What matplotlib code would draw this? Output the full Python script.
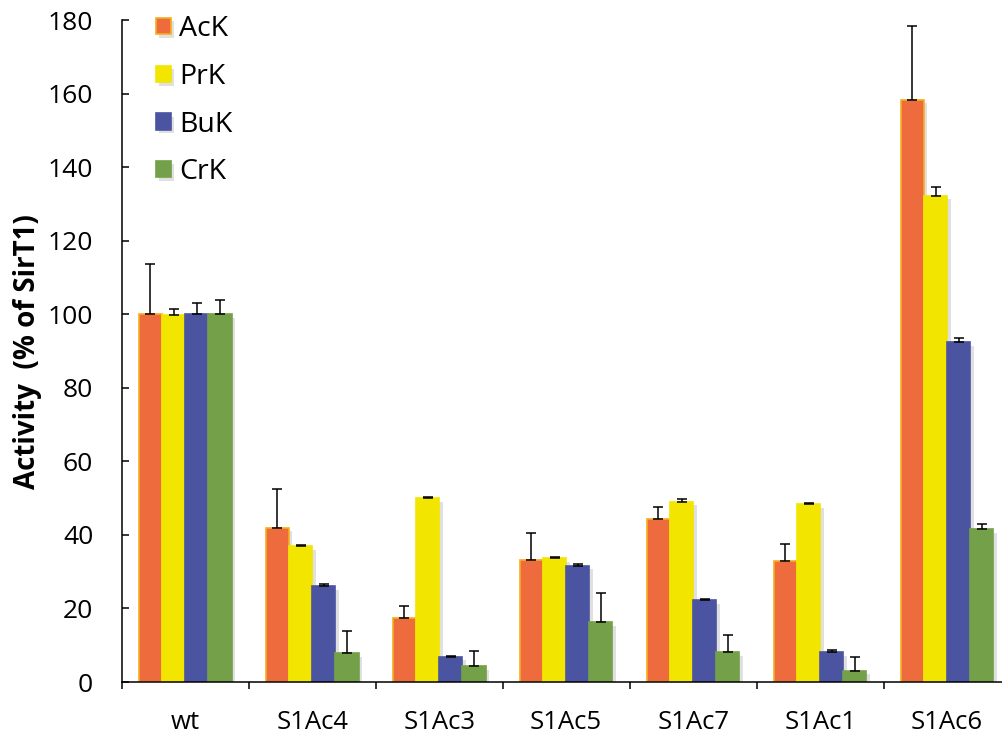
import matplotlib
matplotlib.use("Agg")
import matplotlib.pyplot as plt
import matplotlib.patheffects as pe
from matplotlib.ticker import FixedLocator, NullFormatter
import numpy as np

plt.rcParams['font.family'] = ['Open Sans', 'DejaVu Sans']

categories = ["wt", "S1Ac4", "S1Ac3", "S1Ac5", "S1Ac7", "S1Ac1", "S1Ac6"]
series_names = ["AcK", "PrK", "BuK", "CrK"]

ack = [100.0, 42.0, 17.4, 33.2, 44.3, 32.8, 158.4]
prk = [99.8, 36.9, 50.0, 33.7, 49.1, 48.3, 132.3]
buk = [100.0, 26.1, 6.8, 31.6, 22.2, 8.1, 92.5]
crk = [100.0, 7.8, 4.3, 16.2, 8.1, 3.0, 41.5]

ack_err = [13.8, 10.6, 3.4, 7.3, 3.4, 4.7, 20.0]
prk_err = [1.6, 0.4, 0.4, 0.4, 0.7, 0.4, 2.5]
buk_err = [3.0, 0.6, 0.3, 0.6, 0.3, 0.7, 1.0]
crk_err = [4.0, 6.2, 4.1, 7.9, 4.6, 3.7, 1.5]

yticks = [0, 20, 40, 60, 80, 100, 120, 140, 160, 180]

values = [ack, prk, buk, crk]
errors = [ack_err, prk_err, buk_err, crk_err]
fills = ["#EE6B3D", "#F2E600", "#4A54A1", "#74A04A"]
edges = ["#F6AE1E", "#F2E600", "#4A54A1", "#74A04A"]

fig = plt.figure(figsize=(10.03, 7.35), dpi=100)
ax = fig.add_axes([0.1213, 0.0721, 0.8787, 0.9001])

x = np.arange(len(categories))
w = 0.1825
offsets = [-1.5 * w, -0.5 * w, 0.5 * w, 1.5 * w]
shadow = [pe.SimplePatchShadow(offset=(2.5, -2.5), shadow_rgbFace="black", alpha=0.12), pe.Normal()]

for vals, errs, fc, ec, off, name in zip(values, errors, fills, edges, offsets, series_names):
    bars = ax.bar(x + off, vals, width=w, color=fc, edgecolor=ec, linewidth=1.2,
                  label=name, zorder=2)
    for b in bars:
        b.set_path_effects(shadow)
    ax.errorbar(x + off, vals, yerr=[np.zeros(len(vals)), errs], fmt="none",
                ecolor="black", elinewidth=1.1, capsize=3.3, capthick=1.1, zorder=3)

ax.set_xlim(-0.5, 6.44)
ax.set_ylim(0, 180)

for s in ["top", "right"]:
    ax.spines[s].set_visible(False)
for s in ["left", "bottom"]:
    ax.spines[s].set_linewidth(1.1)

ax.set_yticks(yticks)
ax.set_yticklabels([str(t) for t in yticks])
ax.tick_params(axis="y", direction="in", length=5, width=1.1, labelsize=19, pad=20.5)

ax.xaxis.set_major_locator(FixedLocator(np.arange(-0.5, 6.0, 1.0)))
ax.xaxis.set_major_formatter(NullFormatter())
ax.xaxis.set_minor_locator(FixedLocator(x))
ax.set_xticklabels(categories, minor=True)
ax.tick_params(axis="x", which="major", direction="out", length=5, width=1.1)
ax.tick_params(axis="x", which="minor", length=0, labelsize=18.5, pad=20)

ax.set_ylabel("Activity  (% of SirT1)", fontsize=20, fontweight="bold", labelpad=4)

leg = ax.legend(loc="upper left", bbox_to_anchor=(0.026, 1.025), frameon=False,
                fontsize=20.5, handlelength=0.52, handleheight=0.52,
                handletextpad=0.3, labelspacing=0.69, borderaxespad=0)

fig.savefig("out.png", dpi=100)
